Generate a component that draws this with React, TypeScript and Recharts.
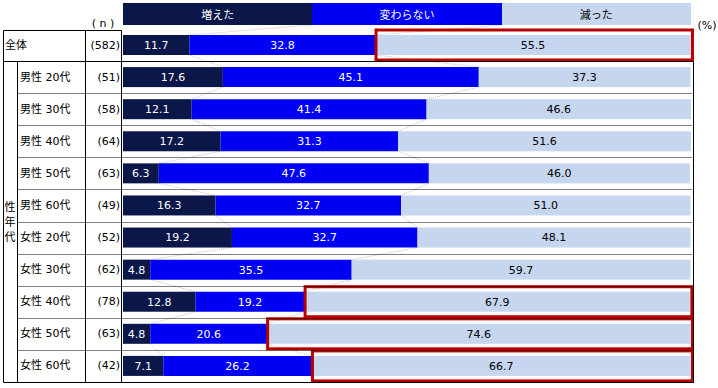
import React from "react";
import { BarChart, Bar, XAxis, YAxis, LabelList } from "recharts";

const categories = [
  "全体",
  "男性 20代",
  "男性 30代",
  "男性 40代",
  "男性 50代",
  "男性 60代",
  "女性 20代",
  "女性 30代",
  "女性 40代",
  "女性 50代",
  "女性 60代",
];
const nCounts = [582, 51, 58, 64, 63, 49, 52, 62, 78, 63, 42];
const increased = [11.7, 17.6, 12.1, 17.2, 6.3, 16.3, 19.2, 4.8, 12.8, 4.8, 7.1];
const unchanged = [32.8, 45.1, 41.4, 31.3, 47.6, 32.7, 32.7, 35.5, 19.2, 20.6, 26.2];
const decreased = [55.5, 37.3, 46.6, 51.6, 46.0, 51.0, 48.1, 59.7, 67.9, 74.6, 66.7];
const highlighted = ["全体", "女性 40代", "女性 50代", "女性 60代"];
const seriesNames = ["増えた", "変わらない", "減った"];

const rows = categories.map((name, i) => ({
  name,
  n: nCounts[i],
  inc: increased[i],
  same: unchanged[i],
  dec: decreased[i],
}));

const W = 718;
const H = 388;
const M = { top: 29, right: 27, bottom: 6, left: 3 };
const AXIS_W = 120;
const PLOT_L = M.left + AXIS_W;
const PLOT_R = W - M.right;
const BAND = (H - M.top - M.bottom) / rows.length;
const LEGEND_TOP = 3;
const LEGEND_H = 22;

const C_DARK = "#0B1649";
const C_BLUE = "#0000F5";
const C_LIGHT = "#C6D6EF";
const C_RED = "#B80000";
const FONT = "'DejaVu Sans', 'Noto Sans CJK JP', sans-serif";

const fmt = (v: any) => Number(v).toFixed(1);

const IncShape = (p: any) => {
  const { x, y, width, height, payload, index } = p;
  const k = width / payload.inc;
  const next = rows[index + 1];
  const links: any[] = [];
  if (next) {
    const pairs = [
      [payload.inc, next.inc],
      [payload.inc + payload.same, next.inc + next.same],
    ];
    pairs.forEach(([a, b], j) => {
      links.push(
        <line
          key={"n" + j}
          x1={x + a * k}
          y1={y + height}
          x2={x + b * k}
          y2={y + BAND}
          stroke="#C4C4C4"
          strokeDasharray="1 1"
        />
      );
    });
  }
  if (index === 0) {
    const pairs = [
      [100 / 3, payload.inc],
      [200 / 3, payload.inc + payload.same],
    ];
    pairs.forEach(([a, b], j) => {
      links.push(
        <line
          key={"l" + j}
          x1={x + a * k}
          y1={LEGEND_TOP + LEGEND_H}
          x2={x + b * k}
          y2={y}
          stroke="#C4C4C4"
          strokeDasharray="1 1"
        />
      );
    });
  }
  return (
    <g>
      {links}
      <rect x={x} y={y} width={width} height={height} fill={C_DARK} />
    </g>
  );
};

const DecShape = (p: any) => {
  const { x, y, width, height, payload } = p;
  const hl = highlighted.includes(payload.name);
  return (
    <g>
      <rect x={x} y={y} width={width} height={height} fill={C_LIGHT} />
      {hl && (
        <rect
          x={x + 0.5}
          y={y + height / 2 - 15}
          width={width + 1.5}
          height={30}
          fill="none"
          stroke={C_RED}
          strokeWidth={3}
        />
      )}
    </g>
  );
};

const CatTick = (p: any) => {
  const { y, payload, index } = p;
  return (
    <g fontFamily={FONT} fontSize={11} fill="#000">
      <text x={index === 0 ? 5 : 20} y={y} dominantBaseline="central" fill="#000">
        {payload.value}
      </text>
      <text x={120} y={y} textAnchor="end" dominantBaseline="central" fill="#000">
        ({nCounts[index]})
      </text>
    </g>
  );
};

const Grid = () => {
  const yTop = 30.5;
  const y1 = M.top + BAND;
  const yBot = H - M.bottom + 0.5;
  const dotted = [];
  for (let i = 2; i < rows.length; i++) {
    const yy = Math.round(M.top + BAND * i) + 0.5;
    dotted.push(
      <line key={i} x1={17.5} x2={692} y1={yy} y2={yy} stroke="#000" strokeDasharray="1 1" />
    );
  }
  return (
    <svg
      width={W}
      height={H}
      style={{ position: "absolute", left: 0, top: 0, pointerEvents: "none" }}
    >
      <line x1={3.5} x2={121.5} y1={yTop} y2={yTop} stroke="#000" />
      <line x1={3.5} x2={693.5} y1={Math.round(y1) + 0.5} y2={Math.round(y1) + 0.5} stroke="#000" />
      {dotted}
      <line x1={3.5} x2={693.5} y1={yBot} y2={yBot} stroke="#000" />
      <line x1={3.5} x2={3.5} y1={yTop} y2={yBot} stroke="#000" />
      <line x1={17.5} x2={17.5} y1={Math.round(y1) + 0.5} y2={yBot} stroke="#000" />
      <line x1={85.5} x2={85.5} y1={yTop} y2={yBot} stroke="#000" />
      <line x1={121.5} x2={121.5} y1={yTop} y2={yBot} stroke="#000" />
      <line x1={693.5} x2={693.5} y1={Math.round(y1) + 0.5} y2={yBot} stroke="#000" />
      <g fontFamily={FONT} fontSize={11} fill="#000" textAnchor="middle">
        <text x={10} y={207} dominantBaseline="central">性</text>
        <text x={10} y={222} dominantBaseline="central">年</text>
        <text x={10} y={237} dominantBaseline="central">代</text>
        <text x={103} y={23} dominantBaseline="central">( n )</text>
        <text x={707} y={25} dominantBaseline="central">(%)</text>
      </g>
    </svg>
  );
};

const Legend3 = () => (
  <div
    style={{
      position: "absolute",
      left: PLOT_L,
      top: LEGEND_TOP,
      width: PLOT_R - PLOT_L,
      height: LEGEND_H,
      display: "flex",
      fontFamily: FONT,
      fontSize: 11,
    }}
  >
    {seriesNames.map((s, i) => (
      <div
        key={s}
        style={{
          flex: 1,
          background: [C_DARK, C_BLUE, C_LIGHT][i],
          color: i < 2 ? "#fff" : "#000",
          display: "flex",
          alignItems: "center",
          justifyContent: "center",
        }}
      >
        {s}
      </div>
    ))}
  </div>
);

export default function App() {
  return (
    <div style={{ position: "absolute", left: 0, top: 0, width: W, height: H, background: "#fff" }}>
      <BarChart width={W} height={H} data={rows} layout="vertical" margin={M} barCategoryGap={0}>
        <XAxis type="number" domain={[0, 100]} hide />
        <YAxis
          type="category"
          dataKey="name"
          width={AXIS_W}
          axisLine={false}
          tickLine={false}
          tick={<CatTick />}
          interval={0}
        />
        <Bar dataKey="inc" stackId="a" fill={C_DARK} barSize={20} shape={<IncShape />} isAnimationActive={false}>
          <LabelList dataKey="inc" position="center" fill="#fff" fontSize={11} fontFamily={FONT} formatter={fmt} />
        </Bar>
        <Bar dataKey="same" stackId="a" fill={C_BLUE} barSize={20} isAnimationActive={false}>
          <LabelList dataKey="same" position="center" fill="#fff" fontSize={11} fontFamily={FONT} formatter={fmt} />
        </Bar>
        <Bar dataKey="dec" stackId="a" fill={C_LIGHT} barSize={20} shape={<DecShape />} isAnimationActive={false}>
          <LabelList dataKey="dec" position="center" fill="#000" fontSize={11} fontFamily={FONT} formatter={fmt} />
        </Bar>
      </BarChart>
      <Grid />
      <Legend3 />
    </div>
  );
}
